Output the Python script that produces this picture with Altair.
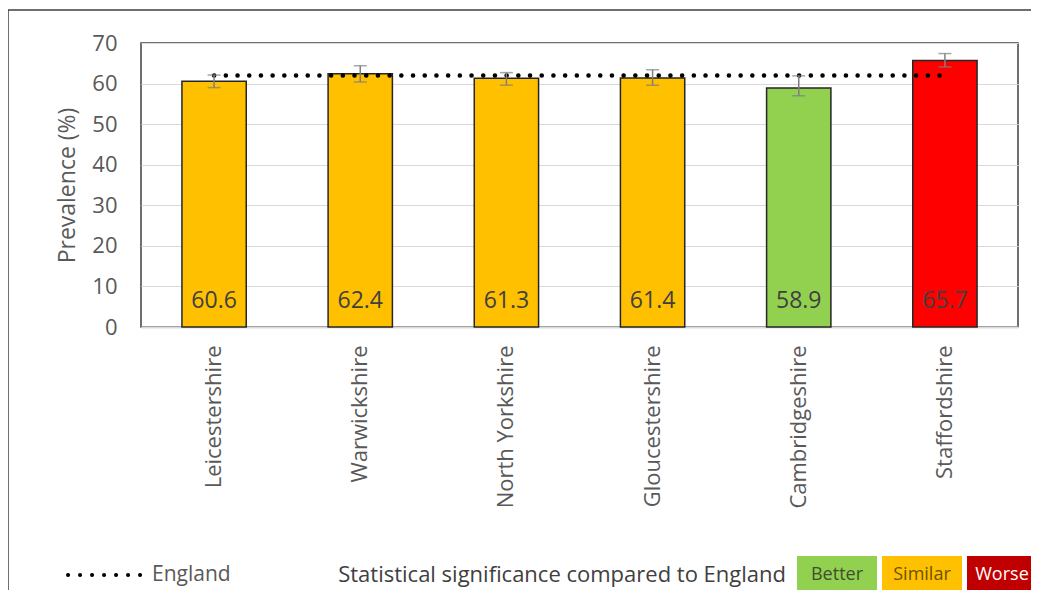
import altair as alt
import pandas as pd

# ---- data ----
counties = ["Leicestershire", "Warwickshire", "North Yorkshire",
            "Gloucestershire", "Cambridgeshire", "Staffordshire"]
values = [60.6, 62.4, 61.3, 61.4, 58.9, 65.7]
lower = [59.0, 60.4, 59.6, 59.6, 57.0, 64.1]
upper = [62.1, 64.4, 62.7, 63.4, 61.9, 67.4]
significance = ["Similar", "Similar", "Similar", "Similar", "Better", "Worse"]
england = 62.0

sig_levels = ["Better", "Similar", "Worse"]
bar_colors = ["#92D050", "#FFC000", "#FF0000"]
legend_fill = ["#92D050", "#FFC000", "#C00000"]
legend_text_colors = ["#3F4F2F", "#6B5300", "#FFFFFF"]
legend_title = "Statistical significance compared to England"
england_label = "England"
y_ticks = [0, 10, 20, 30, 40, 50, 60, 70]

FONT = "Open Sans"
GREY = "#595959"

df = pd.DataFrame({
    "county": counties,
    "value": values,
    "lower": lower,
    "upper": upper,
    "sig": significance,
    "england": [england] * len(counties),
})
df["label"] = df["value"].map(lambda v: f"{v:.1f}")

W, H = 877, 284

x_enc = alt.X(
    "county:N", sort=counties, title=None,
    scale=alt.Scale(paddingInner=0.56, paddingOuter=0.28),
    axis=alt.Axis(labelAngle=270, ticks=False, labelPadding=18,
                  labelFontSize=22, labelColor=GREY, labelFont=FONT,
                  domainColor="#D9D9D9", domainWidth=2),
)
y_scale = alt.Scale(domain=[0, 70], nice=False)

base = alt.Chart(df)

bars = base.mark_bar(stroke="#262626", strokeWidth=1.5).encode(
    x=x_enc,
    y=alt.Y("value:Q", scale=y_scale, title="Prevalence (%)",
            axis=alt.Axis(values=y_ticks, ticks=False, domain=False,
                          labelPadding=24, labelFontSize=22, labelColor=GREY,
                          labelFont=FONT, gridColor="#D9D9D9", gridWidth=1.2,
                          titleFontSize=23, titleColor=GREY, titleFont=FONT,
                          titleFontWeight="normal", titlePadding=12)),
    color=alt.Color("sig:N", scale=alt.Scale(domain=sig_levels, range=bar_colors),
                    legend=None),
)

eng_line = base.mark_line(color="black", strokeDash=[0.1, 11.6], strokeCap="round",
                          strokeWidth=4.5).encode(
    x=alt.X("county:N", sort=counties),
    y=alt.Y("england:Q", scale=y_scale),
)

err = base.mark_rule(color="#7F7F7F", strokeWidth=1.5).encode(
    x=alt.X("county:N", sort=counties),
    y=alt.Y("lower:Q", scale=y_scale),
    y2="upper:Q",
)
cap_lo = base.mark_tick(color="#7F7F7F", thickness=1.5, size=13).encode(
    x=alt.X("county:N", sort=counties),
    y=alt.Y("lower:Q", scale=y_scale),
)
cap_hi = base.mark_tick(color="#7F7F7F", thickness=1.5, size=13).encode(
    x=alt.X("county:N", sort=counties),
    y=alt.Y("upper:Q", scale=y_scale),
)

labels = base.mark_text(font=FONT, fontSize=23, color="#404040",
                        baseline="middle").encode(
    x=alt.X("county:N", sort=counties),
    y=alt.value(258),
    text="label:N",
)

one = alt.Chart(pd.DataFrame({"k": [0]}))

# outer frame of the figure
frame = one.mark_rect(fill="white", fillOpacity=0, stroke="#404040",
                      strokeWidth=1.5).encode(
    x=alt.value(-133), x2=alt.value(905), y=alt.value(-33), y2=alt.value(620))

# legend: England dotted line
leg_line = one.mark_rule(color="black", strokeDash=[0.1, 11.9], strokeCap="round",
                         strokeWidth=4).encode(
    x=alt.value(-73), x2=alt.value(0), y=alt.value(532))
leg_eng = one.mark_text(font=FONT, fontSize=21, color=GREY, align="left",
                        baseline="middle").encode(
    x=alt.value(11), y=alt.value(532), text=alt.value(england_label))
leg_title = one.mark_text(font=FONT, fontSize=22, color="#404040", align="right",
                          baseline="middle").encode(
    x=alt.value(645), y=alt.value(532), text=alt.value(legend_title))

legend_layers = []
for i, (lev, fc, tc) in enumerate(zip(sig_levels, legend_fill, legend_text_colors)):
    x0 = 656 + i * 85
    x1 = x0 + 80 if i < 2 else x0 + 70
    legend_layers.append(one.mark_rect(color=fc).encode(
        x=alt.value(x0), x2=alt.value(x1), y=alt.value(513), y2=alt.value(552)))
    legend_layers.append(one.mark_text(font=FONT, fontSize=18, color=tc,
                                       baseline="middle", align="center").encode(
        x=alt.value((x0 + x1) / 2), y=alt.value(532), text=alt.value(lev)))

chart = alt.layer(
    frame, bars, eng_line, err, cap_lo, cap_hi, labels,
    leg_line, leg_eng, leg_title, *legend_layers,
).properties(
    width=W, height=H,
    autosize=alt.AutoSizeParams(type="none"),
    padding={"left": 133, "top": 35, "right": 13, "bottom": 263},
    background="white",
).configure_view(stroke="#404040", strokeWidth=1.5)

chart.save("out.html", embed_options={"renderer": "svg", "actions": False})
